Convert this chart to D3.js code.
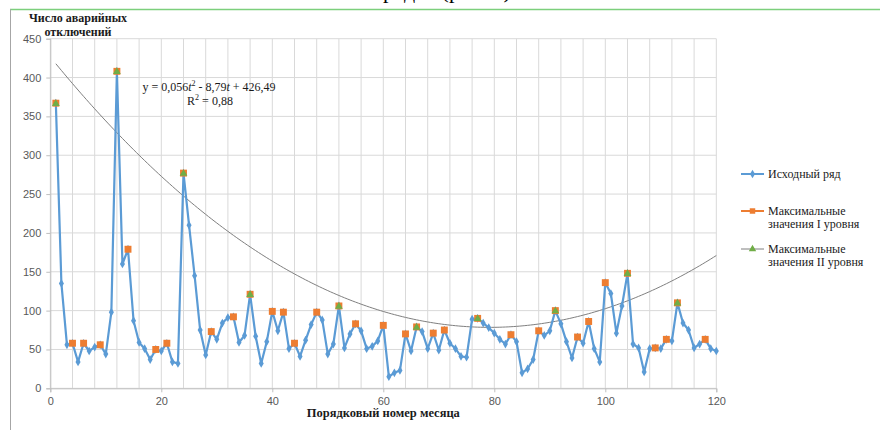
<!DOCTYPE html>
<html><head><meta charset="utf-8">
<script src="https://cdn.jsdelivr.net/npm/d3@7"></script>
<style>
html,body{margin:0;padding:0;background:#fff;}
svg{display:block;}
</style></head>
<body>
<svg id="chart" width="880" height="430"></svg>
<script>
// ---- data ----
const months = d3.range(1, 121);
const series = [367,135,56,58,34,58,48,53,56,44,98,408,160,179,87,59,51,37,50,48,
58,34,32,277,210,145,75,43,73,63,84,91,92,59,68,121,67,32,60,99,
74,98,51,58,41,62,82,98,88,44,57,106,52,70,83,74,51,54,61,81,
15,20,23,70,48,79,73,51,71,49,75,58,51,41,40,89,90,84,78,71,
63,57,69,60,20,25,37,74,68,74,100,83,60,39,66,58,86,51,34,136,
122,71,106,148,57,52,21,51,52,51,63,61,110,84,75,52,57,63,51,48];
const maxLevel1 = [1,4,6,9,12,14,19,21,24,29,33,36,40,42,44,48,52,55,60,64,66,69,71,77,83,88,91,95,97,100,104,109,111,113,118];
const maxLevel2 = [1,12,24,36,52,66,77,91,104,113];
const trendCoef = [0.0555, -8.79, 426.49]; // a, b, c
const xTicks = [0,20,40,60,80,100,120];
const yTicks = [0,50,100,150,200,250,300,350,400,450];
const legendLabels = [["Исходный ряд"],["Максимальные","значения I уровня"],["Максимальные","значения II уровня"]];

// ---- setup ----
const svg = d3.select("#chart");
const L = 50.3, R = 716.3, T = 38.7, B = 388.3;
const x = d3.scaleLinear().domain([0,120]).range([L,R]);
const y = d3.scaleLinear().domain([0,450]).range([B,T]);
const blue = "#5b9bd5", orange = "#ed7d31", green = "#70ad47", grid = "#d9d9d9";
const serif = "'Liberation Serif','Times New Roman',serif";
const sans = "'Liberation Sans',Arial,sans-serif";

// frame
svg.append("line").attr("x1",10).attr("x2",880).attr("y1",9.5).attr("y2",9.5).attr("stroke","#7ccf7c").attr("stroke-width",1.5);
svg.append("line").attr("x1",10.5).attr("x2",10.5).attr("y1",9).attr("y2",430).attr("stroke","#a6a6a6").attr("stroke-width",1);

// cut-off document text at very top (only descenders visible)
svg.append("text").attr("x",383).attr("y",-2).attr("font-family",serif).attr("font-size",22).attr("fill","#000").text("рядах (рис. 1)");

// gridlines
svg.append("g").selectAll("line").data(d3.range(0,121,4)).join("line")
  .attr("x1",d=>x(d)).attr("x2",d=>x(d)).attr("y1",T).attr("y2",B)
  .attr("stroke",grid).attr("stroke-width",1);
svg.append("g").selectAll("line").data(yTicks).join("line")
  .attr("x1",L).attr("x2",R).attr("y1",d=>y(d)).attr("y2",d=>y(d))
  .attr("stroke",grid).attr("stroke-width",1);

// axes
const xAxis = svg.append("g").attr("transform",`translate(0,${B})`)
  .call(d3.axisBottom(x).tickValues(xTicks).tickSize(4).tickPadding(5).tickFormat(d3.format("d")));
xAxis.select(".domain").attr("stroke","#bfbfbf");
xAxis.selectAll(".tick line").attr("stroke","#bfbfbf");
xAxis.selectAll("text").attr("font-family",sans).attr("font-size",11).attr("fill","#595959");

const yAxis = svg.append("g").attr("transform",`translate(${L},0)`)
  .call(d3.axisLeft(y).tickValues(yTicks).tickSize(4).tickPadding(5));
yAxis.select(".domain").attr("stroke","#bfbfbf");
yAxis.selectAll(".tick line").attr("stroke","#bfbfbf");
yAxis.selectAll("text").attr("font-family",sans).attr("font-size",11).attr("fill","#595959");

// axis titles
const yt = svg.append("text").attr("font-family",serif).attr("font-weight","bold").attr("font-size",12).attr("text-anchor","middle").attr("fill","#1a1a1a");
yt.append("tspan").attr("x",78).attr("y",22).text("Число аварийных");
yt.append("tspan").attr("x",78).attr("y",36).text("отключений");
svg.append("text").attr("x",(L+R)/2).attr("y",417).attr("font-family",serif).attr("font-weight","bold").attr("font-size",12.5)
  .attr("text-anchor","middle").attr("fill","#1a1a1a").text("Порядковый номер месяца");

// trend line
const trend = t => trendCoef[0]*t*t + trendCoef[1]*t + trendCoef[2];
const tt = d3.range(1, 120.01, 0.5);
svg.append("path").datum(tt)
  .attr("d", d3.line().x(t=>x(t)).y(t=>y(trend(t))))
  .attr("fill","none").attr("stroke","#7f7f7f").attr("stroke-width",1);

// main series
const pts = months.map((m,i)=>({t:m, v:series[i]}));
svg.append("path").datum(pts)
  .attr("d", d3.line().x(d=>x(d.t)).y(d=>y(d.v)))
  .attr("fill","none").attr("stroke",blue).attr("stroke-width",2.2).attr("stroke-linejoin","round");
const diamond = d3.symbol().type(d3.symbolDiamond).size(22);
svg.append("g").selectAll("path").data(pts).join("path")
  .attr("transform",d=>`translate(${x(d.t)},${y(d.v)})`).attr("d",diamond()).attr("fill",blue);

// level I maxima (squares)
const sq = d3.symbol().type(d3.symbolSquare).size(48);
svg.append("g").selectAll("path").data(maxLevel1).join("path")
  .attr("transform",t=>`translate(${x(t)},${y(series[t-1])})`).attr("d",sq()).attr("fill",orange);
// level II maxima (triangles)
const tri = d3.symbol().type(d3.symbolTriangle).size(26);
svg.append("g").selectAll("path").data(maxLevel2).join("path")
  .attr("transform",t=>`translate(${x(t)},${y(series[t-1])+0.5})`).attr("d",tri()).attr("fill",green);

// equation (single text, two lines)
const eq = svg.append("text").attr("y",91).attr("text-anchor","middle").attr("font-family",serif).attr("font-size",12).attr("fill","#1a1a1a");
eq.append("tspan").attr("x",209).text("y = 0,056");
eq.append("tspan").attr("font-style","italic").text("t");
eq.append("tspan").attr("font-size",8).attr("dy",-5).text("2");
eq.append("tspan").attr("dy",5).text(" - 8,79");
eq.append("tspan").attr("font-style","italic").text("t");
eq.append("tspan").text(" + 426,49");
eq.append("tspan").attr("x",210).attr("dy",14).text("R");
eq.append("tspan").attr("font-size",8).attr("dy",-5).text("2");
eq.append("tspan").attr("dy",5).text(" = 0,88");

// legend
const lg = svg.append("g").attr("font-family",serif).attr("font-size",12).attr("fill","#1a1a1a");
const ly = [174, 211, 249];
const lineCol = [blue, orange, "#7f7f7f"];
legendLabels.forEach((lines,i)=>{
  lg.append("line").attr("x1",741).attr("x2",764).attr("y1",ly[i]).attr("y2",ly[i]).attr("stroke",lineCol[i]).attr("stroke-width",i===2?1:2);
  const sym = i===0 ? diamond : i===1 ? d3.symbol().type(d3.symbolSquare).size(30) : d3.symbol().type(d3.symbolTriangle).size(24);
  lg.append("path").attr("transform",`translate(752.5,${ly[i]})`).attr("d",sym()).attr("fill",[blue,orange,green][i]);
  const tx = lg.append("text").attr("x",768).attr("y",ly[i]+4);
  lines.forEach((s,j)=>tx.append("tspan").attr("x",768).attr("dy",j===0?0:12.5).text(s));
});
</script>
</body></html>
